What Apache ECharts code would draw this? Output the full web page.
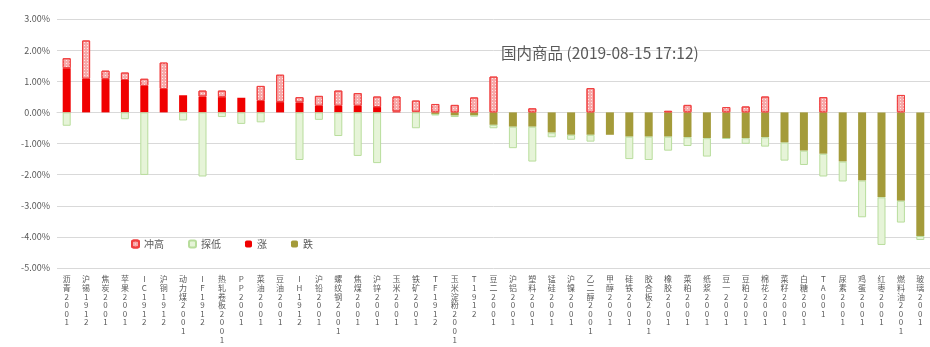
<!DOCTYPE html>
<html>
<head>
<meta charset="utf-8">
<script src="https://cdn.jsdelivr.net/npm/echarts@6/dist/echarts.min.js"></script>
<style>
html,body{margin:0;padding:0;background:#fff;}
#c{width:930px;height:347px;}
</style>
</head>
<body>
<div id="c"></div>
<script>
// Categories (contracts)
const categories = [
  '沥青2001','沪锡1912','焦炭2001','苹果2001','IC1912','沪铜1912','动力煤2001','IF1912','热轧卷板2001','PP2001',
  '菜油2001','豆油2001','IH1912','沪铅2001','螺纹钢2001','焦煤2001','沪锌2001','玉米2001','铁矿2001','TF1912',
  '玉米淀粉2001','T1912','豆二2001','沪铝2001','塑料2001','锰硅2001','沪镍2001','乙二醇2001','甲醇2001','硅铁2001',
  '胶合板2001','橡胶2001','菜粕2001','纸浆2001','豆一2001','豆粕2001','棉花2001','菜籽2001','白糖2001','TA001',
  '尿素2001','鸡蛋2001','红枣2001','燃料油2001','玻璃2001'
];
// Close change (%)
const closePct = [
  1.42, 1.08, 1.07, 1.04, 0.85, 0.75, 0.55, 0.51, 0.49, 0.47,
  0.37, 0.33, 0.32, 0.21, 0.21, 0.21, 0.17, 0.03, 0.02, -0.05,
  -0.10, -0.10, -0.40, -0.46, -0.46, -0.65, -0.72, -0.72, -0.72, -0.78,
  -0.78, -0.78, -0.80, -0.83, -0.83, -0.83, -0.80, -0.97, -1.23, -1.33,
  -1.58, -2.19, -2.73, -2.84, -3.97
];
// Intraday high (%)
const highPct = [
  1.74, 2.31, 1.34, 1.28, 1.08, 1.60, 0.55, 0.70, 0.70, 0.47,
  0.85, 1.21, 0.49, 0.53, 0.70, 0.62, 0.51, 0.51, 0.38, 0.27,
  0.24, 0.48, 1.15, 0.00, 0.13, 0.00, 0.00, 0.78, 0.00, 0.00,
  0.00, 0.05, 0.24, 0.00, 0.17, 0.19, 0.51, 0.00, 0.00, 0.49,
  0.00, 0.00, 0.00, 0.56, 0.00
];
// Intraday low (%)
const lowPct = [
  -0.43, 0.00, 0.00, -0.22, -2.01, 0.00, -0.26, -2.06, -0.15, -0.37,
  -0.32, 0.00, -1.53, -0.24, -0.76, -1.40, -1.63, 0.00, -0.51, -0.10,
  -0.15, -0.13, -0.51, -1.15, -1.58, -0.80, -0.88, -0.94, -0.72, -1.50,
  -1.53, -1.23, -1.08, -1.42, -0.85, -1.01, -1.10, -1.55, -1.69, -2.06,
  -2.22, -3.37, -4.26, -3.54, -4.10
];
const titleText = '国内商品 (2019-08-15 17:12)';

const nz = v => (Math.abs(v) < 1e-9 ? '-' : +v.toFixed(2));
const upBase = closePct.map(v => v > 0 ? v : 0);
const downBase = closePct.map(v => v < 0 ? v : 0);
const upVals = upBase.map(nz);
const downVals = downBase.map(nz);
const highVals = highPct.map((h, i) => nz(Math.max(h - upBase[i], 0)));
const lowVals = lowPct.map((l, i) => nz(Math.min(l - downBase[i], 0)));

const FONT = '"Noto Sans CJK SC", "Noto Sans", sans-serif';
const chart = echarts.init(document.getElementById('c'));
chart.setOption({
  animation: false,
  backgroundColor: '#ffffff',
  title: {
    text: titleText,
    left: 496, top: 40,
    textStyle: {fontSize: 15.5, fontWeight: 'normal', color: '#595959', fontFamily: FONT}
  },
  legend: {
    data: ['冲高', '探低', '涨', '跌'],
    left: 126, top: 234,
    itemWidth: 7, itemHeight: 7, itemGap: 24,
    textStyle: {fontSize: 10, color: '#595959', fontFamily: FONT}
  },
  grid: {left: 57, top: 19, width: 882, height: 249, containLabel: false},
  xAxis: {
    type: 'category',
    data: categories,
    axisLine: {show: true, lineStyle: {color: '#d9d9d9'}},
    axisTick: {show: false},
    axisLabel: {
      interval: 0, margin: 7, fontSize: 8, lineHeight: 8.6, color: '#595959', fontFamily: FONT,
      verticalAlign: 'top',
      formatter: v => v.split('').join('\n')
    }
  },
  yAxis: {
    type: 'value',
    min: -5, max: 3, interval: 1,
    axisLine: {show: false},
    axisTick: {show: false},
    axisLabel: {fontSize: 9, color: '#595959', margin: 7, fontFamily: FONT,
      formatter: v => v.toFixed(2) + '%'},
    splitLine: {lineStyle: {color: '#d9d9d9', width: 1}}
  },
  series: [
    {name: '涨', type: 'bar', stack: 'a', barWidth: 8, data: upVals,
      itemStyle: {color: '#f00000'}},
    {name: '跌', type: 'bar', stack: 'a', barWidth: 8, data: downVals,
      itemStyle: {color: '#a49b3a'}},
    {name: '冲高', type: 'bar', stack: 'a', barWidth: 8, data: highVals,
      itemStyle: {color: '#f7a9a9', borderColor: '#f04040', borderWidth: 1,
        decal: {symbol: 'rect', symbolSize: 1, color: 'rgba(255,255,255,0.75)', dashArrayX: [1, 2], dashArrayY: [1, 2]}}},
    {name: '探低', type: 'bar', stack: 'a', barWidth: 8, data: lowVals,
      itemStyle: {color: '#e6f4d8', borderColor: '#b8dd9c', borderWidth: 1}}
  ]
});
</script>
</body>
</html>
